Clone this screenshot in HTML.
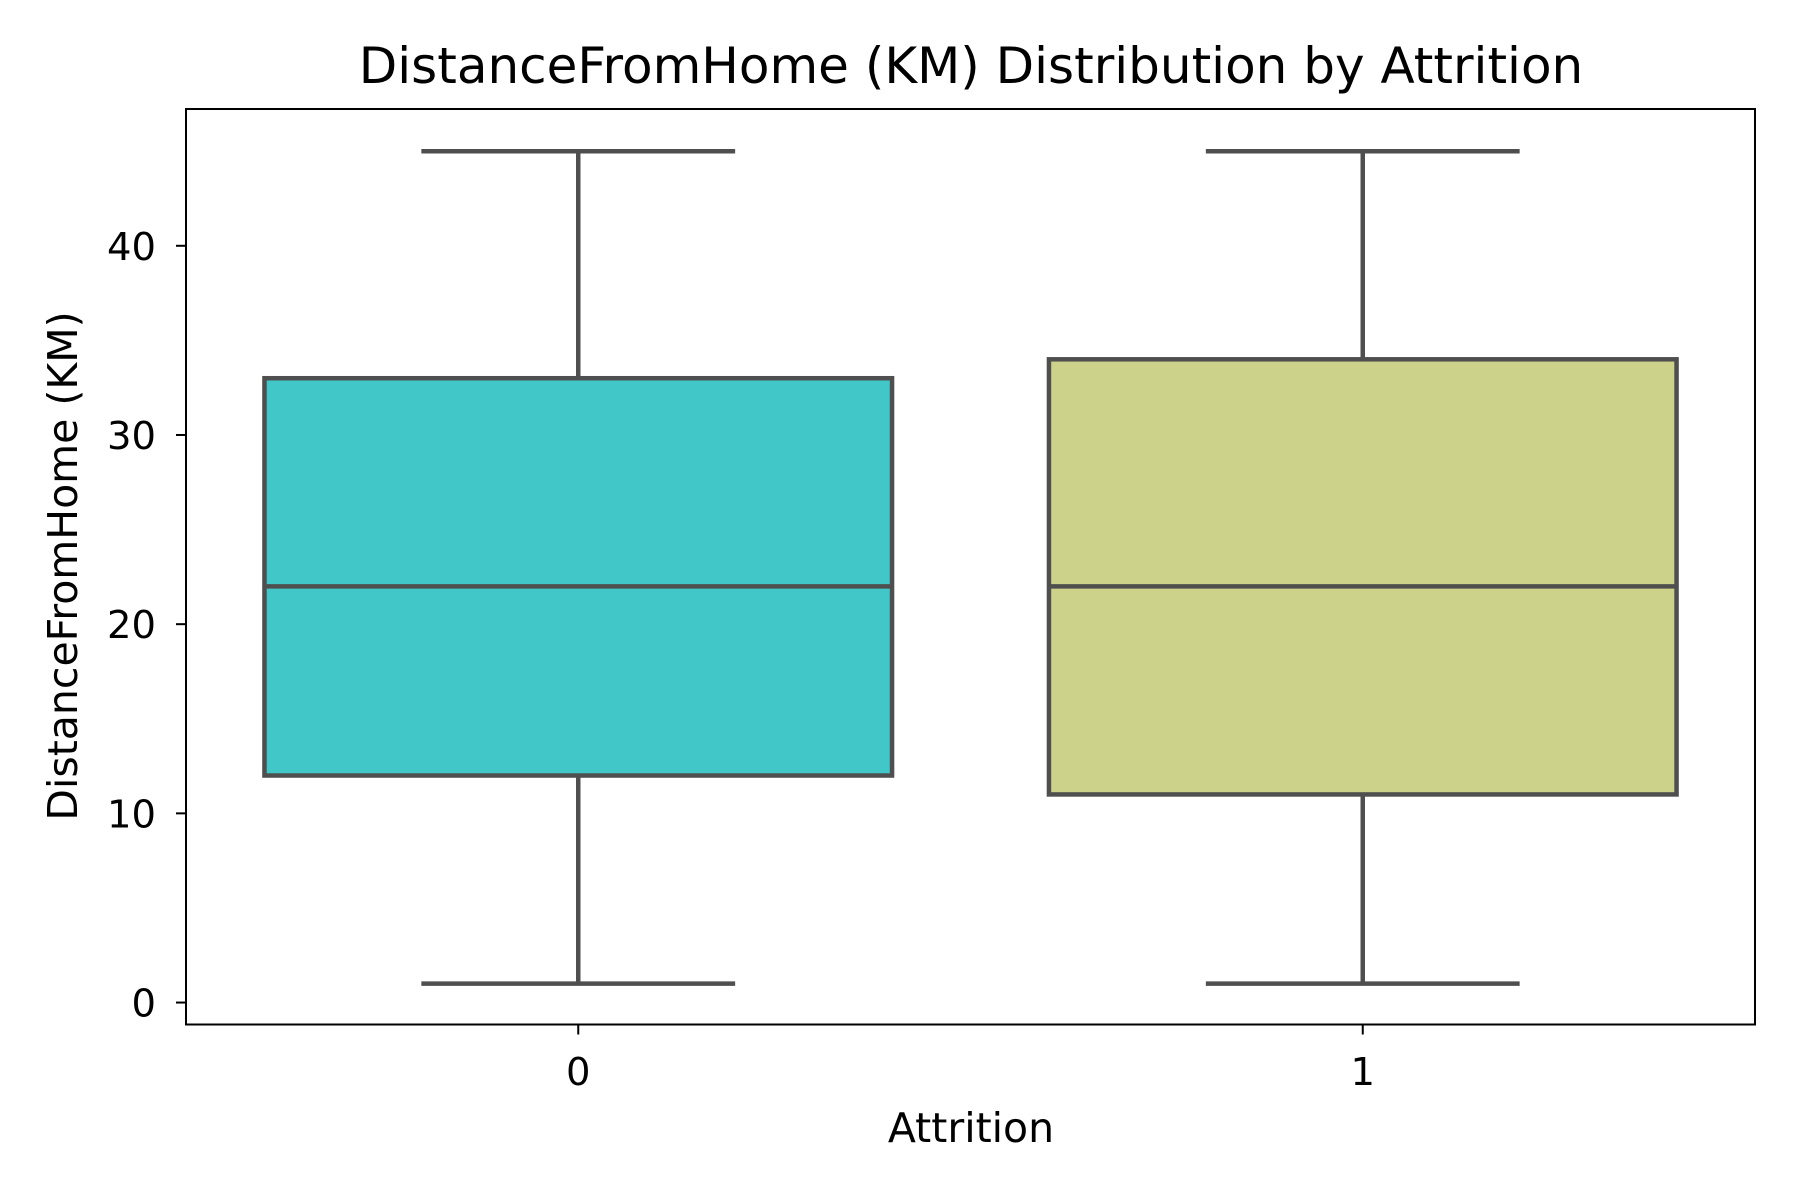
<!DOCTYPE html>
<html><head><meta charset="utf-8"><style>html,body{margin:0;padding:0;background:#fff}svg{display:block}text{font-family:"DejaVu Sans","Liberation Sans",sans-serif;fill:#000}</style></head>
<body>
<svg id="chart" width="1800" height="1200" xmlns="http://www.w3.org/2000/svg">
<text x="971" y="83" font-size="50" text-anchor="middle">DistanceFromHome (KM) Distribution by Attrition</text>
<g id="plot"></g>
<rect x="186" y="109" width="1569" height="915.5" fill="none" stroke="#000" stroke-width="2"/>
<text x="971" y="1142" font-size="41" text-anchor="middle">Attrition</text>
<text transform="translate(77,566) rotate(-90)" font-size="41" text-anchor="middle">DistanceFromHome (KM)</text>
</svg>
<script>
const categories = ["0","1"];
const whiskerLow = [1, 1];
const q1 = [12, 11];
const median = [22, 22];
const q3 = [33, 34];
const whiskerHigh = [45, 45];
const boxColors = ["#42c7c8", "#cdd28a"];
const yTicks = [0, 10, 20, 30, 40];

const L=186,R=1755,T=109,B=1024.5, yMin=-1.16, yMax=47.23, xMin=-0.5, xMax=1.5;
const xs = i => L + (i - xMin) / (xMax - xMin) * (R - L);
const ys = v => B - (v - yMin) / (yMax - yMin) * (B - T);
const NS="http://www.w3.org/2000/svg";
const g=document.getElementById('plot');
function mk(tag, attrs){const e=document.createElementNS(NS,tag);for(const k in attrs)e.setAttribute(k,attrs[k]);g.appendChild(e);return e;}
const unit=(R-L)/(xMax-xMin), bw=0.8*unit, cw=bw/2, lc="#4f4f4f", lw=4.5;
categories.forEach((c,i)=>{
  const cx=xs(i);
  let e=mk('line',{x1:cx,x2:cx,y1:ys(whiskerLow[i]),y2:ys(q1[i]),stroke:lc,'stroke-width':lw});
  
  
  e=mk('line',{x1:cx,x2:cx,y1:ys(q3[i]),y2:ys(whiskerHigh[i]),stroke:lc,'stroke-width':lw});
  
  
  e=mk('line',{x1:cx-cw/2,x2:cx+cw/2,y1:ys(whiskerLow[i]),y2:ys(whiskerLow[i]),stroke:lc,'stroke-width':lw});
  
  
  e=mk('line',{x1:cx-cw/2,x2:cx+cw/2,y1:ys(whiskerHigh[i]),y2:ys(whiskerHigh[i]),stroke:lc,'stroke-width':lw});
  
  
  e=mk('rect',{x:cx-bw/2,y:ys(q3[i]),width:bw,height:ys(q1[i])-ys(q3[i]),fill:boxColors[i],stroke:lc,'stroke-width':lw});
  
  
  e=mk('line',{x1:cx-bw/2,x2:cx+bw/2,y1:ys(median[i]),y2:ys(median[i]),stroke:lc,'stroke-width':lw});
  
  
  e=mk('line',{x1:cx,x2:cx,y1:B,y2:B+10,stroke:'#000','stroke-width':2});
  
  
  e=mk('text',{x:cx,y:1085,'font-size':38.5,'text-anchor':'middle'});e.textContent=c;
  
  
});
yTicks.forEach(v=>{
  const y=ys(v);
  let e=mk('line',{x1:L-10,x2:L,y1:y,y2:y,stroke:'#000','stroke-width':2});
  
  
  e=mk('text',{x:L-30,y:y+14,'font-size':38.5,'text-anchor':'end'});e.textContent=v;
  
  
});
</script>
</body></html>
